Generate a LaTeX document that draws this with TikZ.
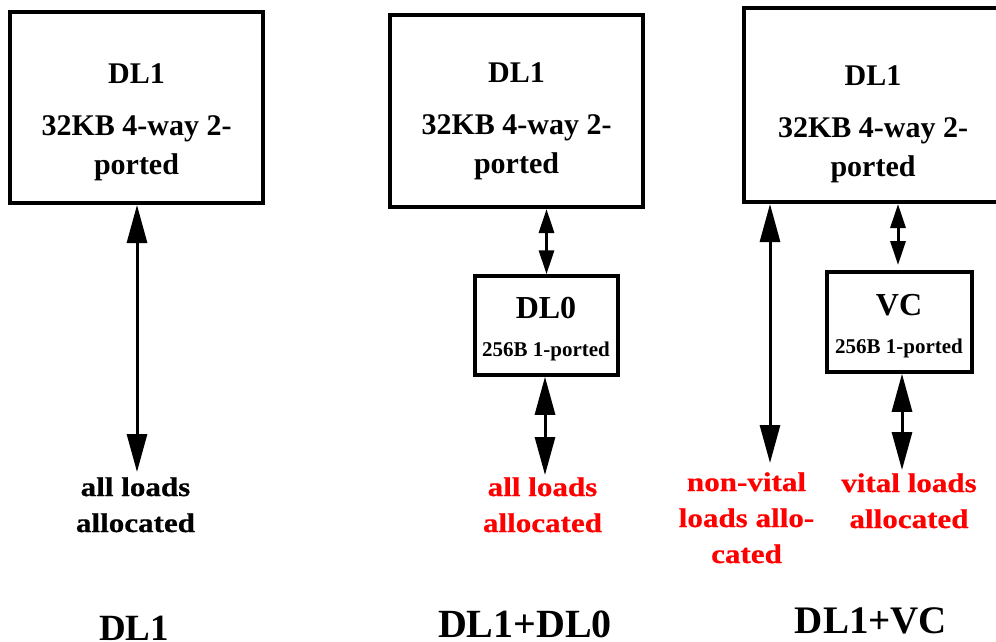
\documentclass[tikz,border=0pt]{standalone}
\usepackage{fontspec}
\setmainfont{Liberation Serif}
\newfontfamily\widefont{Liberation Serif}[FakeStretch=1.15, BoldFeatures={FakeBold=0.6}]
\usetikzlibrary{arrows.meta}

\begin{document}
\begin{tikzpicture}[x=1pt,y=-1pt,
    cache/.style={draw, line width=4pt, inner sep=0pt},
    smallcache/.style={draw, line width=3.5pt, inner sep=0pt},
    boxtext/.style={anchor=base, align=center, font=\fontsize{30}{39}\selectfont\bfseries},
    vctext/.style={anchor=base, align=center, font=\fontsize{32}{32}\selectfont\bfseries},
    lbl/.style={anchor=base, align=center, font=\widefont\fontsize{27}{36}\selectfont\bfseries},
    title/.style={anchor=base, font=\fontsize{37}{40}\selectfont\bfseries},
    bigarr/.style={line width=3pt, {Triangle[length=38pt,width=20pt]}-{Triangle[length=38pt,width=20pt]}},
    smallarr/.style={line width=3pt, {Triangle[length=24pt,width=15pt]}-{Triangle[length=24pt,width=15pt]}}]
    \path[use as bounding box, clip] (0,0) rectangle (996,642);

    % DL1 only
    \node[cache, minimum width=253pt, minimum height=191pt] (l1) at (136.5,107.5) {};
    \node[boxtext] (l1txt) at (136.5,174) {DL1\\[13pt]32KB 4-way 2-\\ported};
    \node[lbl] (l1lab) at (135.5,532) {all loads\\allocated};
    \coordinate (l1end) at (137,472);
    \draw[bigarr] (l1end |- l1.south) -- (l1end);
    \node[title] (t1) at (134,640) {DL1};

    % DL1 + DL0
    \node[cache, minimum width=253pt, minimum height=192pt] (m1) at (516.5,111) {};
    \node[boxtext] (m1txt) at (516.5,173) {DL1\\[13pt]32KB 4-way 2-\\ported};
    \node[smallcache, minimum width=143pt, minimum height=99pt] (m0) at (546.5,325.5) {};
    \node[vctext] (m0txt) at (546,356) {DL0\\[6pt]{\fontsize{21}{32}\selectfont 256B 1-ported}};
    \draw[smallarr] (m0.north |- m1.south) -- (m0.north);
    \coordinate (m0end) at (545,475);
    \draw[bigarr] (m0end |- m0.south) -- (m0end);
    \node[lbl, red] (m0lab) at (542.5,532) {all loads\\allocated};
    \node[title, font=\fontsize{40}{40}\selectfont\bfseries] (t2) at (525,637) {DL1+DL0};

    % DL1 + VC
    \node[cache, minimum width=258pt, minimum height=194pt] (r1) at (873,105) {};
    \node[boxtext] (r1txt) at (873,176) {DL1\\[13pt]32KB 4-way 2-\\ported};
    \node[smallcache, minimum width=145pt, minimum height=100pt] (vc) at (899.5,322) {};
    \node[vctext] (vctxt) at (899,353) {VC\\[6pt]{\fontsize{21}{32}\selectfont 256B 1-ported}};
    \coordinate (r1end) at (770,463);
    \draw[bigarr] (r1end |- r1.south) -- (r1end);
    \coordinate (vctop) at (898,265);
    \draw[smallarr] (vctop |- r1.south) -- (vctop);
    \coordinate (vcend) at (902,470);
    \draw[bigarr] (vcend |- vc.south) -- (vcend);
    \node[lbl, red] (r1lab) at (746.5,563) {non-vital\\loads allo-\\cated};
    \node[lbl, red] (vclab) at (909,528) {vital loads\\allocated};
    \node[title, font=\fontsize{39}{40}\selectfont\bfseries] (t3) at (871,633) {DL1+VC};
\end{tikzpicture}
\end{document}
